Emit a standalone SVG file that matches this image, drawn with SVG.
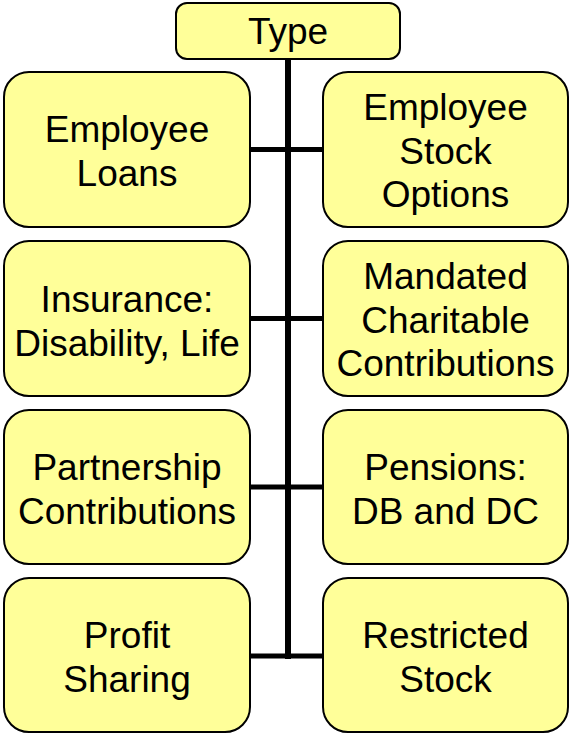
<svg xmlns="http://www.w3.org/2000/svg" width="569" height="735" viewBox="0 0 569 735">
<style>
.box{fill:#FFFF99;stroke:#000;stroke-width:2}
.t{font-family:"Liberation Sans",Arial,sans-serif;font-size:37px;fill:#000;text-anchor:middle}
.c{stroke:#000;fill:none}
</style>
<rect width="569" height="735" fill="#fff"/>
<g id="connectors">
<line class="c" x1="288" y1="58" x2="288" y2="659" stroke-width="6"/>
<line class="c" x1="250" y1="149.5" x2="323" y2="149.5" stroke-width="5"/>
<line class="c" x1="250" y1="318.5" x2="323" y2="318.5" stroke-width="5"/>
<line class="c" x1="250" y1="487" x2="323" y2="487" stroke-width="5"/>
<line class="c" x1="250" y1="656" x2="323" y2="656" stroke-width="5"/>
</g>
<g id="type">
<rect class="box" x="176" y="3" width="224" height="56" rx="11"/>
<text class="t" x="288" y="44">Type</text>
</g>
<g id="employee-loans">
<rect class="box" x="4" y="72" width="246" height="155" rx="25"/>
<text class="t" x="127" y="142">Employee</text>
<text class="t" x="127" y="186">Loans</text>
</g>
<g id="employee-stock-options">
<rect class="box" x="323" y="72" width="245" height="155" rx="25"/>
<text class="t" x="445.5" y="120">Employee</text>
<text class="t" x="445.5" y="164">Stock</text>
<text class="t" x="445.5" y="207">Options</text>
</g>
<g id="insurance">
<rect class="box" x="4" y="241" width="246" height="155" rx="25"/>
<text class="t" x="127" y="312">Insurance:</text>
<text class="t" x="127" y="356">Disability, Life</text>
</g>
<g id="mandated-charitable">
<rect class="box" x="323" y="241" width="245" height="155" rx="25"/>
<text class="t" x="445.5" y="289">Mandated</text>
<text class="t" x="445.5" y="333">Charitable</text>
<text class="t" x="445.5" y="376">Contributions</text>
</g>
<g id="partnership">
<rect class="box" x="4" y="410" width="246" height="154" rx="25"/>
<text class="t" x="127" y="480">Partnership</text>
<text class="t" x="127" y="524">Contributions</text>
</g>
<g id="pensions">
<rect class="box" x="323" y="410" width="245" height="154" rx="25"/>
<text class="t" x="445.5" y="480">Pensions:</text>
<text class="t" x="445.5" y="524">DB and DC</text>
</g>
<g id="profit-sharing">
<rect class="box" x="4" y="578" width="246" height="154" rx="25"/>
<text class="t" x="127" y="648">Profit</text>
<text class="t" x="127" y="692">Sharing</text>
</g>
<g id="restricted-stock">
<rect class="box" x="323" y="578" width="245" height="154" rx="25"/>
<text class="t" x="445.5" y="648">Restricted</text>
<text class="t" x="445.5" y="692">Stock</text>
</g>
</svg>
